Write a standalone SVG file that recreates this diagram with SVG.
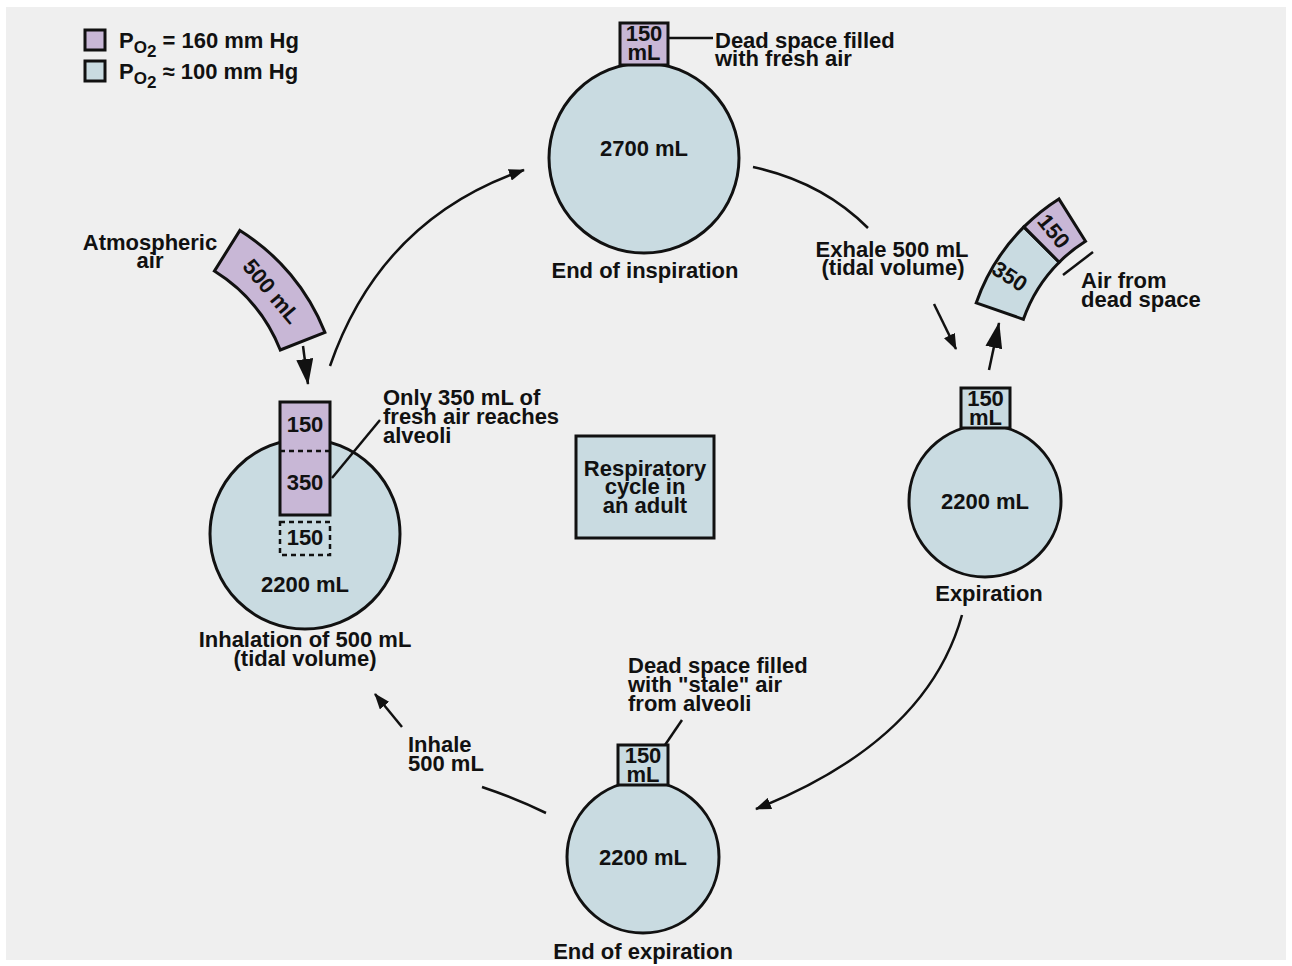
<svg xmlns="http://www.w3.org/2000/svg" width="1292" height="966" viewBox="0 0 1292 966">
<style>
.t{font-family:"Liberation Sans",Arial,sans-serif;font-weight:bold;font-size:22px;fill:#111}
.m{text-anchor:middle}
.bl{fill:#c9dbe1;stroke:#111;stroke-width:3}
.pu{fill:#c8b7d6;stroke:#111;stroke-width:3}
.ln{fill:none;stroke:#111;stroke-width:2.5}
.dash{fill:none;stroke:#111;stroke-width:2.5;stroke-dasharray:5 4}
</style>
<defs>
<marker id="ah" viewBox="0 0 16 12" refX="15" refY="6" markerWidth="16" markerHeight="12" markerUnits="userSpaceOnUse" orient="auto"><path d="M0,0 L16,6 L0,12 z" fill="#111"/></marker>
<marker id="ahb" viewBox="0 0 26 17" refX="25" refY="8.5" markerWidth="26" markerHeight="17" markerUnits="userSpaceOnUse" orient="auto"><path d="M0,0 L26,8.5 L0,17 z" fill="#111"/></marker>
</defs>
<rect x="0" y="0" width="1292" height="966" fill="#ffffff"/>
<rect x="6" y="7" width="1280" height="953" fill="#efefef"/>

<g id="legend">
<rect x="85" y="30" width="20" height="20" class="pu"/>
<rect x="85" y="61" width="20" height="20" class="bl"/>
<text class="t" x="119" y="48">P<tspan font-size="17" dy="5">O</tspan><tspan font-size="17" dy="4">2</tspan><tspan dy="-9"> = 160 mm Hg</tspan></text>
<text class="t" x="119" y="79">P<tspan font-size="17" dy="5">O</tspan><tspan font-size="17" dy="4">2</tspan><tspan dy="-9"> ≈ 100 mm Hg</tspan></text>
</g>

<g id="connectors">
<path class="ln" d="M330,366 Q381,219 524,170" marker-end="url(#ah)"/>
<path class="ln" d="M753,167 Q822,182 868,228"/>
<path class="ln" d="M934,304 L956,349" marker-end="url(#ah)"/>
<path class="ln" d="M989,370 L999,323" marker-end="url(#ahb)"/>
<path class="ln" d="M962,615 Q927,741 756,809" marker-end="url(#ah)"/>
<path class="ln" d="M546,813 Q515,798 482,787"/>
<path class="ln" d="M402,727 L375,694" marker-end="url(#ah)"/>
<path class="ln" d="M303,346 L308,384" marker-end="url(#ahb)"/>
</g>

<g id="atmospheric-air">
<text class="t m" x="150" y="250">Atmospheric</text>
<text class="t m" x="150" y="268">air</text>
<path class="pu" d="M239.9,230.4 A213 213 0 0 1 324.9,332.3 L280.3,350 A165 165 0 0 0 214.4,271.1 Z"/>
<text class="t m" transform="translate(272,291) rotate(50)" y="8">500 mL</text>
</g>

<g id="end-of-inspiration">
<circle cx="644" cy="158" r="95" class="bl"/>
<rect x="620" y="23" width="48" height="42" class="pu"/>
<text class="t m" x="644" y="41">150</text>
<text class="t m" x="644" y="60">mL</text>
<text class="t m" x="644" y="156">2700 mL</text>
<text class="t m" x="645" y="278">End of inspiration</text>
<path class="ln" d="M668,38 L713,38"/>
<text class="t" x="715" y="48">Dead space filled</text>
<text class="t" x="715" y="66">with fresh air</text>
</g>

<g id="exhale">
<text class="t m" x="892" y="257">Exhale 500 mL</text>
<text class="t m" x="893" y="275">(tidal volume)</text>
<path class="bl" d="M976.2,302.9 A201 201 0 0 1 1023.9,226.9 L1059.2,262.2 A151 151 0 0 0 1023.4,319.3 Z"/>
<path class="pu" d="M1023.9,226.9 A201 201 0 0 1 1058.9,198.9 L1085.5,241.2 A151 151 0 0 0 1059.2,262.2 Z"/>
<text class="t m" transform="translate(1010,276) rotate(33)" y="8">350</text>
<text class="t m" transform="translate(1054,231) rotate(51)" y="8">150</text>
<path class="ln" d="M1063,275 L1093,252"/>
<text class="t" x="1081" y="288">Air from</text>
<text class="t" x="1081" y="307">dead space</text>
</g>

<g id="expiration">
<circle cx="985" cy="501" r="76" class="bl"/>
<rect x="961" y="388" width="49" height="40" class="bl"/>
<text class="t m" x="985.5" y="406">150</text>
<text class="t m" x="985.5" y="425">mL</text>
<text class="t m" x="985" y="509">2200 mL</text>
<text class="t m" x="989" y="601">Expiration</text>
</g>

<g id="end-of-expiration">
<circle cx="643" cy="857" r="76" class="bl"/>
<rect x="618" y="745" width="50" height="40" class="bl"/>
<text class="t m" x="643" y="763">150</text>
<text class="t m" x="643" y="782">mL</text>
<text class="t m" x="643" y="865">2200 mL</text>
<text class="t m" x="643" y="959">End of expiration</text>
<path class="ln" d="M665,745 L682,720"/>
<text class="t" x="628" y="673">Dead space filled</text>
<text class="t" x="628" y="692">with "stale" air</text>
<text class="t" x="628" y="711">from alveoli</text>
<text class="t" x="408" y="752">Inhale</text>
<text class="t" x="408" y="771">500 mL</text>
</g>

<g id="inhalation">
<circle cx="305" cy="534" r="95" class="bl"/>
<rect x="280" y="402" width="50" height="113" class="pu"/>
<path class="dash" d="M280,451 L330,451"/>
<rect x="280" y="522" width="50" height="33" class="dash"/>
<text class="t m" x="305" y="432">150</text>
<text class="t m" x="305" y="490">350</text>
<text class="t m" x="305" y="545">150</text>
<text class="t m" x="305" y="592">2200 mL</text>
<text class="t m" x="305" y="647">Inhalation of 500 mL</text>
<text class="t m" x="305" y="666">(tidal volume)</text>
<path class="ln" d="M332,478 L380,420"/>
<text class="t" x="383" y="405">Only 350 mL of</text>
<text class="t" x="383" y="424">fresh air reaches</text>
<text class="t" x="383" y="443">alveoli</text>
</g>

<g id="center">
<rect x="576" y="436" width="138" height="102" class="bl"/>
<text class="t m" x="645" y="476">Respiratory</text>
<text class="t m" x="645" y="494">cycle in</text>
<text class="t m" x="645" y="513">an adult</text>
</g>
</svg>
